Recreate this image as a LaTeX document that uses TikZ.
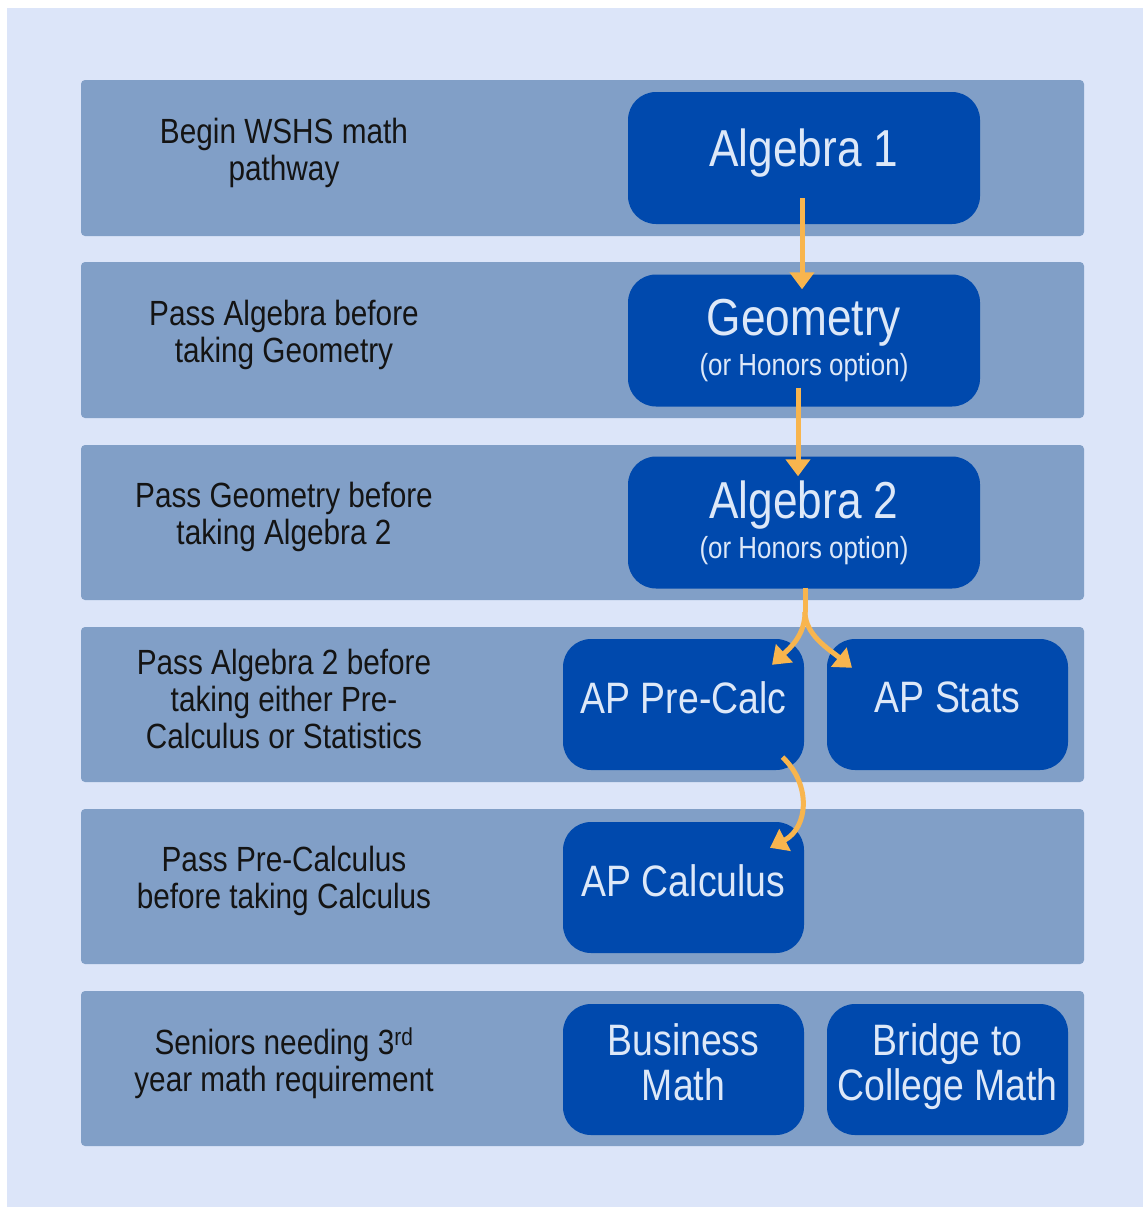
\documentclass[tikz,border=0pt]{standalone}
\usepackage{fontspec}
\setmainfont{Liberation Sans}[FakeStretch=0.85]
\usetikzlibrary{arrows.meta}
\definecolor{bgblue}{HTML}{DCE5F9}
\definecolor{bandcol}{HTML}{819FC7}
\definecolor{boxblue}{HTML}{0049AD}
\definecolor{boxtext}{HTML}{DDE8F8}
\definecolor{flowcol}{HTML}{F8B54E}
\definecolor{labeltext}{HTML}{141414}
\begin{document}
\begin{tikzpicture}[x=1pt,y=-1pt,
  bandbox/.style={fill=bandcol, rounded corners=4pt},
  course/.style={fill=boxblue, rounded corners=28pt, text=boxtext, align=center, inner sep=0pt},
  bigcourse/.style={course, minimum width=352pt, minimum height=132pt, font=\fontsize{52}{40}\selectfont},
  smallcourse/.style={course, minimum width=241pt, minimum height=131pt, text depth=14pt, font=\fontsize{44}{45}\selectfont},
  rowlabel/.style={text=labeltext, align=center, font=\fontsize{35}{37}\selectfont},
  flowline/.style={draw=flowcol, line width=5pt},
  flowarrow/.style={flowline, -{Triangle[length=17pt,width=24pt]}},
]
\useasboundingbox (0,0) rectangle (1143,1207);
\fill[white] (0,0) rectangle (1143,1207);
\fill[bgblue] (7,8) rectangle (1143,1207);

% bands
\path[bandbox] (81,80) rectangle (1084,236);
\path[bandbox] (81,262) rectangle (1084,418);
\path[bandbox] (81,445) rectangle (1084,600);
\path[bandbox] (81,627) rectangle (1084,782);
\path[bandbox] (81,809) rectangle (1084,964);
\path[bandbox] (81,991) rectangle (1084,1146);

% row labels
\node[rowlabel] (l1) at (284,153) {Begin WSHS math\\pathway};
\node[rowlabel] (l2) at (284,335) {Pass Algebra before\\taking Geometry};
\node[rowlabel] (l3) at (284,517) {Pass Geometry before\\taking Algebra 2};
\node[rowlabel] (l4) at (284,699) {Pass Algebra 2 before\\taking either Pre-\\Calculus or Statistics};
\node[rowlabel] (l5) at (284,881) {Pass Pre-Calculus\\before taking Calculus};
\node[rowlabel] (l6) at (284,1063) {Seniors needing 3\textsuperscript{rd}\\year math requirement};

% course boxes
\node[bigcourse, text depth=20pt] (alg1) at (804,158) {Algebra 1};
\node[bigcourse] (geo) at (804,340.5) {Geometry\\{\fontsize{30.5}{40}\selectfont (or Honors option)}};
\node[bigcourse] (alg2) at (804,522.5) {Algebra 2\\{\fontsize{30.5}{40}\selectfont (or Honors option)}};
\node[smallcourse] (pcalc) at (683.5,704.5) {AP Pre-Calc};
\node[smallcourse] (stats) at (947.5,704.5) {AP Stats};
\node[smallcourse] (calc) at (683.5,887.5) {AP Calculus};
\node[smallcourse] (bus) at (683.5,1069.5) {Business\\Math};
\node[smallcourse] (bridge) at (947.5,1069.5) {Bridge to\\College Math};

% connectors
\draw[flowarrow] ([xshift=-2pt,yshift=26pt]alg1.south) -- ([xshift=-2pt,yshift=-15pt]geo.north);
\draw[flowarrow] ([xshift=-6pt,yshift=19pt]geo.south) -- ([xshift=-6pt,yshift=-20pt]alg2.north);
\coordinate (split) at (805,612);
\draw[flowline] ([xshift=1pt,yshift=1pt]alg2.south) -- (split);
\draw[flowarrow] (split) .. controls (805,635) and (790,648) .. ([xshift=88.5pt,yshift=-26pt]pcalc.north);
\draw[flowarrow] (split) .. controls (805,635) and (830,650) .. ([xshift=-95.5pt,yshift=-29pt]stats.north);
\draw[flowarrow] ([xshift=99pt,yshift=13pt]pcalc.south) .. controls (812,785) and (808,828) .. ([xshift=86.5pt,yshift=-26pt]calc.north);
\end{tikzpicture}
\end{document}
